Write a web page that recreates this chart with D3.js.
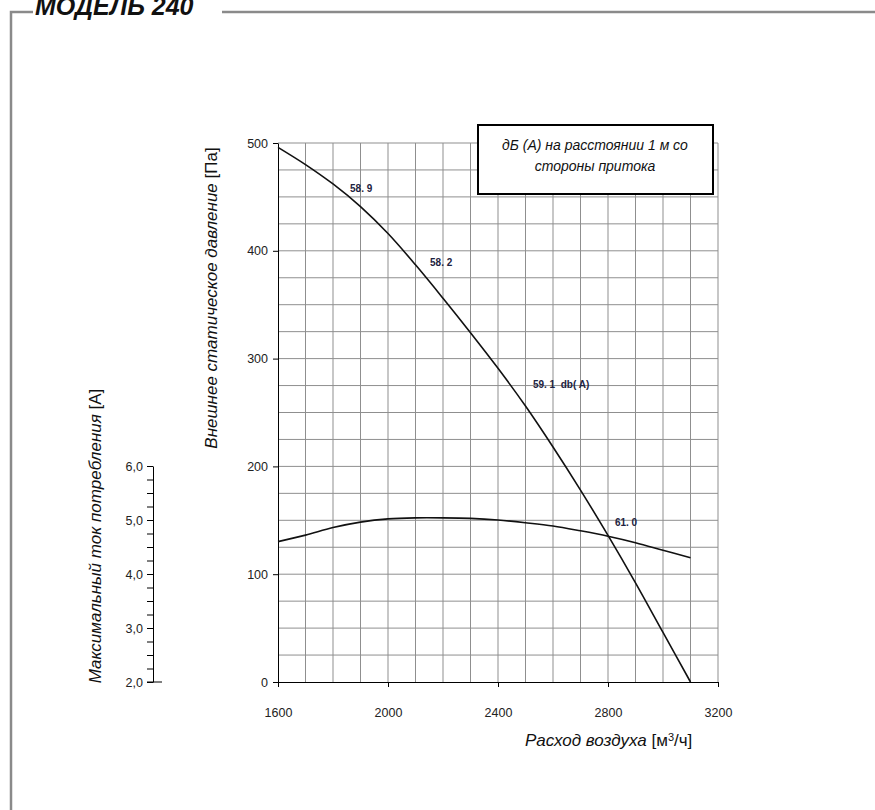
<!DOCTYPE html>
<html>
<head>
<meta charset="utf-8">
<script src="https://cdn.jsdelivr.net/npm/d3@7"></script>
<style>
  body { margin: 0; background: #fff; }
  svg { display: block; }
  .tick text { font-family: "Liberation Sans", Arial, sans-serif; font-size: 12.5px; fill: #222; }
  .narrow { font-family: "Liberation Sans Narrow", "Liberation Sans", Arial, sans-serif; }
</style>
</head>
<body>
<svg id="chart" width="875" height="810"></svg>
<script>
/*
*       Data
*/

// Air flow, m3/h
var airFlow = [1600, 1700, 1800, 1900, 2000, 2100, 2200, 2300, 2400, 2500, 2600, 2700, 2800, 2900, 3000, 3100];

// External static pressure, Pa
var pressure = [496, 480, 462, 441, 416, 387, 356, 324, 291, 256, 218, 178, 136, 92, 46, 0];

// Max current draw, A (plotted against the left-hand scale)
var current = [4.60, 4.72, 4.86, 4.96, 5.02, 5.04, 5.04, 5.03, 5.00, 4.95, 4.89, 4.80, 4.70, 4.58, 4.44, 4.30];

// Noise labels dB(A) on the curve
var noiseText = ['58. 9', '58. 2', '59. 1  db( A)', '61. 0'];
var noiseFlow = [1862, 2153, 2527, 2825];
var noisePa   = [458, 389, 276, 148];

// Tick values
var flowTicks = [1600, 2000, 2400, 2800, 3200];
var paTicks   = [0, 100, 200, 300, 400, 500];
var ampTicks  = [2, 3, 4, 5, 6];

/*
*       Scales
*/

var svg = d3.select('#chart');

var x = d3.scaleLinear().domain([1600, 3200]).range([278, 718]);
var y = d3.scaleLinear().domain([0, 500]).range([682, 143]);
var yAmp = d3.scaleLinear().domain([2, 6]).range([682, 466]);

// Outer frame with the model title
svg.append('path')
    .attr('d', 'M11,810 V12 H33 M222,12 H875')
    .attr('fill', 'none')
    .attr('stroke', '#8a8a8a')
    .attr('stroke-width', 2.5);

svg.append('text')
    .attr('x', 35).attr('y', 15)
    .attr('font-family', '"Liberation Sans", Arial, sans-serif')
    .attr('font-size', 25)
    .attr('font-weight', 'bold')
    .attr('font-style', 'italic')
    .attr('fill', '#111')
    .text('МОДЕЛЬ 240');

/*
*       Grid
*/

var grid = svg.append('g').attr('stroke', '#8f8f8f').attr('stroke-width', 1);

grid.selectAll('line.v')
    .data(d3.range(1700, 3201, 100))
    .enter().append('line')
    .attr('x1', function(d) { return x(d); })
    .attr('x2', function(d) { return x(d); })
    .attr('y1', y(0)).attr('y2', y(500));

grid.selectAll('line.h')
    .data(d3.range(25, 501, 25))
    .enter().append('line')
    .attr('y1', function(d) { return y(d); })
    .attr('y2', function(d) { return y(d); })
    .attr('x1', x(1600)).attr('x2', x(3200));

/*
*       Axes
*/

var xAxis = svg.append('g')
    .attr('transform', 'translate(0,' + y(0) + ')')
    .call(d3.axisBottom(x).tickValues(flowTicks).tickFormat(d3.format('d'))
        .tickSize(5).tickSizeOuter(0).tickPadding(21));

var yAxis = svg.append('g')
    .attr('transform', 'translate(' + x(1600) + ',0)')
    .call(d3.axisLeft(y).tickValues(paTicks).tickSize(5).tickSizeOuter(0).tickPadding(5));

var ampAxis = svg.append('g')
    .attr('transform', 'translate(153,0)')
    .call(d3.axisLeft(yAmp)
        .tickValues(d3.range(2, 6.01, 0.25))
        .tickSize(6).tickSizeOuter(0).tickPadding(4)
        .tickFormat(function(d) { return ampTicks.indexOf(d) >= 0 ? d3.format('.1f')(d).replace('.', ',') : ''; }));

// Stub at the foot of the current scale
svg.append('line')
    .attr('x1', 147).attr('x2', 162)
    .attr('y1', yAmp(2)).attr('y2', yAmp(2))
    .attr('stroke', '#000');

svg.selectAll('.domain, .tick line').attr('stroke', '#000');

/*
*       Curves
*/

var pressureLine = d3.line()
    .x(function(d, i) { return x(airFlow[i]); })
    .y(function(d) { return y(d); })
    .curve(d3.curveCatmullRom.alpha(0.5));

var currentLine = d3.line()
    .x(function(d, i) { return x(airFlow[i]); })
    .y(function(d) { return yAmp(d); })
    .curve(d3.curveCatmullRom.alpha(0.5));

svg.append('path')
    .datum(pressure)
    .attr('d', pressureLine)
    .attr('fill', 'none').attr('stroke', '#111').attr('stroke-width', 1.6);

svg.append('path')
    .datum(current)
    .attr('d', currentLine)
    .attr('fill', 'none').attr('stroke', '#111').attr('stroke-width', 1.6);

// Noise labels
svg.selectAll('text.noise')
    .data(noiseText)
    .enter().append('text')
    .attr('class', 'noise')
    .attr('x', function(d, i) { return x(noiseFlow[i]); })
    .attr('y', function(d, i) { return y(noisePa[i]); })
    .attr('dy', '0.35em')
    .attr('font-family', '"Liberation Sans", Arial, sans-serif')
    .attr('font-size', 10)
    .attr('font-weight', 'bold')
    .attr('fill', '#1d2240')
    .attr('xml:space', 'preserve')
    .style('white-space', 'pre')
    .text(function(d) { return d; });

/*
*       Legend box
*/

svg.append('rect')
    .attr('x', 478).attr('y', 125)
    .attr('width', 235).attr('height', 69)
    .attr('fill', '#fff').attr('stroke', '#000').attr('stroke-width', 2);

svg.append('text')
    .attr('class', 'narrow')
    .attr('x', 595).attr('y', 150)
    .attr('text-anchor', 'middle')
    .attr('font-size', 14).attr('font-style', 'italic').attr('fill', '#111')
    .text('дБ (А) на расстоянии 1 м со');

svg.append('text')
    .attr('class', 'narrow')
    .attr('x', 595).attr('y', 171)
    .attr('text-anchor', 'middle')
    .attr('font-size', 14).attr('font-style', 'italic').attr('fill', '#111')
    .text('стороны притока');

/*
*       Axis titles
*/

var xTitle = svg.append('text')
    .attr('class', 'narrow')
    .attr('x', 525).attr('y', 746)
    .attr('font-size', 17).attr('fill', '#111');
xTitle.append('tspan').attr('font-style', 'italic').text('Расход воздуха ');
xTitle.append('tspan').text('[м');
xTitle.append('tspan').attr('font-size', 11).attr('dy', -5).text('3');
xTitle.append('tspan').attr('dy', 5).text('/ч]');

svg.append('text')
    .attr('class', 'narrow')
    .attr('transform', 'translate(217,298) rotate(-90)')
    .attr('text-anchor', 'middle')
    .attr('font-size', 17).attr('fill', '#111')
    .html('<tspan font-style="italic">Внешнее статическое давление </tspan><tspan>[Па]</tspan>');

svg.append('text')
    .attr('class', 'narrow')
    .attr('transform', 'translate(101,536) rotate(-90)')
    .attr('text-anchor', 'middle')
    .attr('font-size', 17).attr('fill', '#111')
    .html('<tspan font-style="italic">Максимальный ток потребления </tspan><tspan>[А]</tspan>');
</script>
</body>
</html>
